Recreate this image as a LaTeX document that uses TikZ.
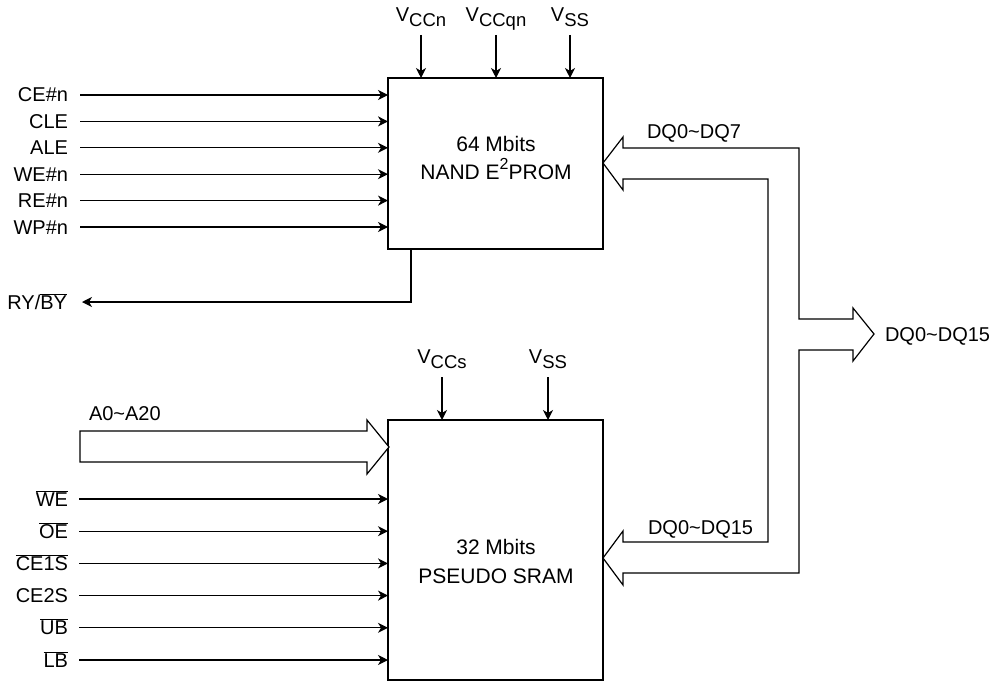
\documentclass[tikz,border=0pt]{standalone}
\usepackage{fontspec}
\setmainfont{Liberation Sans}
\usetikzlibrary{arrows.meta}
\newcommand{\ovl}[1]{$\overline{\hbox{#1}}$}
\newcommand{\pwr}[1]{V\raisebox{-5pt}{\fontsize{18.5}{18.5}\selectfont #1}}
\begin{document}
\begin{tikzpicture}[x=1pt,y=-1pt,
  every node/.style={font=\fontsize{20}{24}\selectfont, inner sep=0pt, outer sep=0pt, text=black},
  pinlbl/.style={anchor=east, text height=14pt, text depth=0pt},
  chiptxt/.style={font=\fontsize{21}{25}\selectfont, text height=15pt, text depth=0pt},
  wire/.style={line width=1.2pt, draw=black, -{Stealth[length=10pt,width=10pt,inset=3pt]}},
  chip/.style={draw=black, line width=1.2pt, rectangle, anchor=north west, minimum width=215pt},
  bus/.style={draw=black, line width=1.2pt, fill=white, line join=miter}]
\useasboundingbox (0,0) rectangle (1000,682);

% chips
\node[chip, minimum height=171pt] (nand) at (388,78) {};
\node[chip, minimum height=260pt] (sram) at (388,420) {};
\node[chiptxt] (nandt1) at (496,144) {64 Mbits};
\node[chiptxt] (nandt2) at (496,172) {NAND E\raisebox{10pt}{\fontsize{16}{16}\selectfont 2}PROM};
\node[chiptxt] (sramt1) at (496,547) {32 Mbits};
\node[chiptxt] (sramt2) at (496,576) {PSEUDO SRAM};

% power pins NAND
\node[anchor=base] (vccn) at (421,22) {\pwr{CCn}};
\node[anchor=base] (vccqn) at (496,22) {\pwr{CCqn}};
\node[anchor=base] (vssn) at (570,22) {\pwr{SS}};
\foreach \p in {vccn,vccqn,vssn}
  \draw[wire] ([yshift=-13pt]\p.base) -- (\p.base |- nand.north);

% power pins SRAM
\node[anchor=base] (vccs) at (442,363) {\pwr{CCs}};
\node[anchor=base] (vsss) at (548,363) {\pwr{SS}};
\foreach \p in {vccs,vsss}
  \draw[wire] ([yshift=-14pt]\p.base) -- (\p.base |- sram.north);

% NAND inputs
\node[pinlbl] (ce) at (68,95) {CE\#n};
\node[pinlbl] (cle) at (68,121.4) {CLE};
\node[pinlbl] (ale) at (68,147.8) {ALE};
\node[pinlbl] (we) at (68,174.2) {WE\#n};
\node[pinlbl] (re) at (68,200.6) {RE\#n};
\node[pinlbl] (wp) at (68,227) {WP\#n};
\foreach \p in {ce,cle,ale,we,re,wp}
  \draw[wire] ([xshift=12pt]\p.east) -- (\p.east -| nand.west);

% RY/BY output
\node[pinlbl] (ry) at (67,302) {RY/\ovl{BY}};
\draw[wire] ([xshift=-84.5pt]nand.south) |- ([xshift=15pt]ry.east);

% SRAM inputs
\node[pinlbl] (swe) at (68,499) {\ovl{WE}};
\node[pinlbl] (soe) at (68,531.2) {\ovl{OE}};
\node[pinlbl] (ce1) at (68,563.4) {\ovl{CE1S}};
\node[pinlbl] (ce2) at (68,595.6) {CE2S};
\node[pinlbl] (ub) at (68,627.8) {\ovl{UB}};
\node[pinlbl] (lb) at (68,660) {\ovl{LB}};
\foreach \p in {swe,soe,ce1,ce2,ub,lb}
  \draw[wire] ([xshift=11pt]\p.east) -- (\p.east -| sram.west);

% address bus
\draw[bus] (80,431) -- (367,431) -- (367,420) -- (389,447) -- (367,474) -- (367,462) -- (80,462) -- cycle;
\node[anchor=west, text height=14pt, text depth=0pt] (addr) at (89,413) {A0\textasciitilde A20};

% data bus
\draw[bus] (603,163) -- (623,137) -- (623,148) -- (799,148) -- (799,319) -- (853,319) -- (853,308)
  -- (874,334) -- (853,361) -- (853,350) -- (799,350) -- (799,573) -- (623,573) -- (623,585)
  -- (603,558) -- (623,531) -- (623,542) -- (768,542) -- (768,179) -- (623,179) -- (623,190) -- cycle;
\node[anchor=west, text height=14pt, text depth=0pt] (dq7) at (647,132) {DQ0\textasciitilde DQ7};
\node[anchor=west, text height=14pt, text depth=0pt] (dq15s) at (648,527) {DQ0\textasciitilde DQ15};
\node[anchor=west, text height=14pt, text depth=0pt] (dq15) at (885,334) {DQ0\textasciitilde DQ15};
\end{tikzpicture}
\end{document}
